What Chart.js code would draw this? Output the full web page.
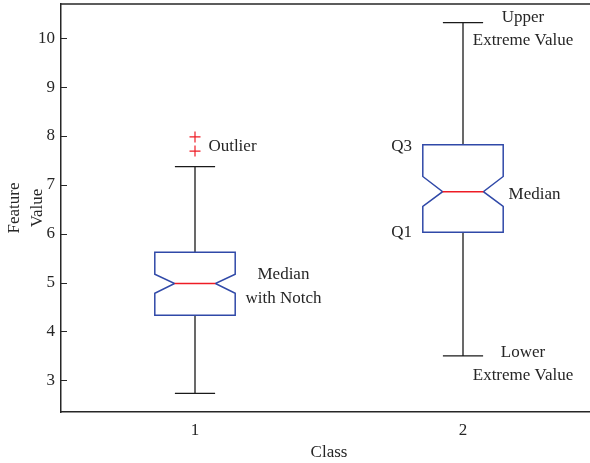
<!DOCTYPE html>
<html>
<head>
<meta charset="utf-8">
<script src="https://cdn.jsdelivr.net/npm/chart.js@4/dist/chart.umd.min.js"></script>
<style>
  body { margin: 0; background: #fff; }
  #wrap { width: 590px; height: 463px; overflow: hidden; }
  canvas { display: block; }
</style>
</head>
<body>
<div id="wrap"><canvas id="chart" width="602" height="463"></canvas></div>
<script>
// box statistics, one entry per class
const classes = [1, 2];
const lowerWhisker = [2.73, 3.50];
const q1 = [4.33, 6.03];
const notchLow = [4.78, 6.56];
const median = [4.98, 6.86];
const notchHigh = [5.17, 7.17];
const q3 = [5.62, 7.82];
const upperWhisker = [7.37, 10.32];

// outliers
const outlierClass = [1, 1];
const outlierValues = [7.98, 7.69];

const yTicks = [3, 4, 5, 6, 7, 8, 9, 10];
const xTicks = [1, 2];

// annotations (text, x, y in data units, alignment)
const noteText = ["Outlier", "Median", "with Notch", "Upper", "Extreme Value", "Q3", "Median", "Q1", "Lower", "Extreme Value"];
const noteX = [1.05, 1.33, 1.33, 2.224, 2.224, 1.81, 2.17, 1.81, 2.224, 2.224];
const noteY = [7.79, 5.16, 4.67, 10.43, 9.96, 7.79, 6.81, 6.02, 3.57, 3.10];
const noteAlign = ["left", "center", "center", "center", "center", "right", "left", "right", "center", "center"];

const BOX_HALF = 0.15;
const NOTCH_HALF = 0.076;
const CAP_HALF = 0.075;
const FONT = "Liberation Serif, Times New Roman, serif";
const TEXT = "#262626";

const boxPlugin = {
  id: "boxes",
  afterDatasetsDraw(chart) {
    const { ctx } = chart;
    const x = chart.scales.x, y = chart.scales.y;
    ctx.save();
    classes.forEach((c, i) => {
      const cx = x.getPixelForValue(c);
      const xl = x.getPixelForValue(c - BOX_HALF), xr = x.getPixelForValue(c + BOX_HALF);
      const nl = x.getPixelForValue(c - NOTCH_HALF), nr = x.getPixelForValue(c + NOTCH_HALF);
      const cl = x.getPixelForValue(c - CAP_HALF), cr = x.getPixelForValue(c + CAP_HALF);
      const yLo = y.getPixelForValue(lowerWhisker[i]);
      const yHi = y.getPixelForValue(upperWhisker[i]);
      const yQ1 = y.getPixelForValue(q1[i]);
      const yQ3 = y.getPixelForValue(q3[i]);
      const yNL = y.getPixelForValue(notchLow[i]);
      const yNH = y.getPixelForValue(notchHigh[i]);
      const yM = y.getPixelForValue(median[i]);

      // whiskers
      ctx.strokeStyle = "#1a1a1a";
      ctx.lineWidth = 1.3;
      ctx.beginPath();
      ctx.moveTo(cx, yQ3); ctx.lineTo(cx, yHi);
      ctx.moveTo(cl, yHi); ctx.lineTo(cr, yHi);
      ctx.moveTo(cx, yQ1); ctx.lineTo(cx, yLo);
      ctx.moveTo(cl, yLo); ctx.lineTo(cr, yLo);
      ctx.stroke();

      // notched box
      ctx.strokeStyle = "#3049a8";
      ctx.lineWidth = 1.5;
      ctx.beginPath();
      ctx.moveTo(xl, yQ3); ctx.lineTo(xr, yQ3);
      ctx.lineTo(xr, yNH); ctx.lineTo(nr, yM); ctx.lineTo(xr, yNL);
      ctx.lineTo(xr, yQ1); ctx.lineTo(xl, yQ1);
      ctx.lineTo(xl, yNL); ctx.lineTo(nl, yM); ctx.lineTo(xl, yNH);
      ctx.closePath();
      ctx.stroke();

      // median
      ctx.strokeStyle = "#ee1c25";
      ctx.beginPath();
      ctx.moveTo(nl, yM); ctx.lineTo(nr, yM);
      ctx.stroke();
    });

    // annotations
    ctx.fillStyle = TEXT;
    ctx.font = "17px " + FONT;
    ctx.textBaseline = "middle";
    noteText.forEach((t, i) => {
      ctx.textAlign = noteAlign[i];
      ctx.fillText(t, x.getPixelForValue(noteX[i]), y.getPixelForValue(noteY[i]));
    });
    ctx.restore();
  },
  afterDraw(chart) {
    const { ctx, chartArea: a } = chart;
    const y = chart.scales.y;
    ctx.save();
    ctx.strokeStyle = "#262626";
    ctx.lineWidth = 1.5;
    ctx.beginPath();
    ctx.moveTo(a.left, a.top); ctx.lineTo(a.right, a.top);
    ctx.stroke();
    // inward ticks on the y axis
    ctx.lineWidth = 1;
    ctx.beginPath();
    yTicks.forEach(v => {
      const p = Math.round(y.getPixelForValue(v)) + 0.5;
      ctx.moveTo(a.left, p); ctx.lineTo(a.left + 6, p);
    });
    ctx.stroke();
    ctx.restore();
  }
};

new Chart(document.getElementById("chart"), {
  type: "scatter",
  data: {
    datasets: [{
      label: "Outlier",
      data: outlierClass.map((c, i) => ({ x: c, y: outlierValues[i] })),
      pointStyle: "cross",
      pointRadius: 5.5,
      pointBorderWidth: 1.2,
      borderColor: "#ee1c25",
      backgroundColor: "#ee1c25"
    }]
  },
  options: {
    responsive: false,
    animation: false,
    layout: { autoPadding: false, padding: { left: 0, top: 4, right: 5, bottom: 0 } },
    plugins: { legend: { display: false }, tooltip: { enabled: false } },
    scales: {
      x: {
        type: "linear",
        min: 0.5,
        max: 2.5,
        afterFit: s => { s.height = 51; s.paddingLeft = 0; s.paddingRight = 0; },
        afterBuildTicks: s => { s.ticks = xTicks.map(v => ({ value: v })); },
        grid: { display: true, drawOnChartArea: false, drawTicks: false },
        border: { display: true, color: "#262626", width: 1.5 },
        ticks: { color: TEXT, font: { family: FONT, size: 17 }, padding: 8 },
        title: { display: true, text: "Class", color: TEXT, font: { family: FONT, size: 17 }, padding: { top: 0, bottom: 0 } }
      },
      y: {
        min: 2.35,
        max: 10.7,
        afterFit: s => { s.width = 61; s.paddingTop = 0; s.paddingBottom = 0; },
        afterBuildTicks: s => { s.ticks = yTicks.map(v => ({ value: v })); },
        grid: { display: true, drawOnChartArea: false, drawTicks: false },
        border: { display: true, color: "#262626", width: 1.5 },
        ticks: { color: TEXT, font: { family: FONT, size: 17 }, padding: 6 },
        title: { display: true, text: ["Feature", "Value"], color: TEXT, font: { family: FONT, size: 17, lineHeight: 1.35 }, padding: { top: 3, bottom: 0 } }
      }
    }
  },
  plugins: [boxPlugin]
});
</script>
</body>
</html>
